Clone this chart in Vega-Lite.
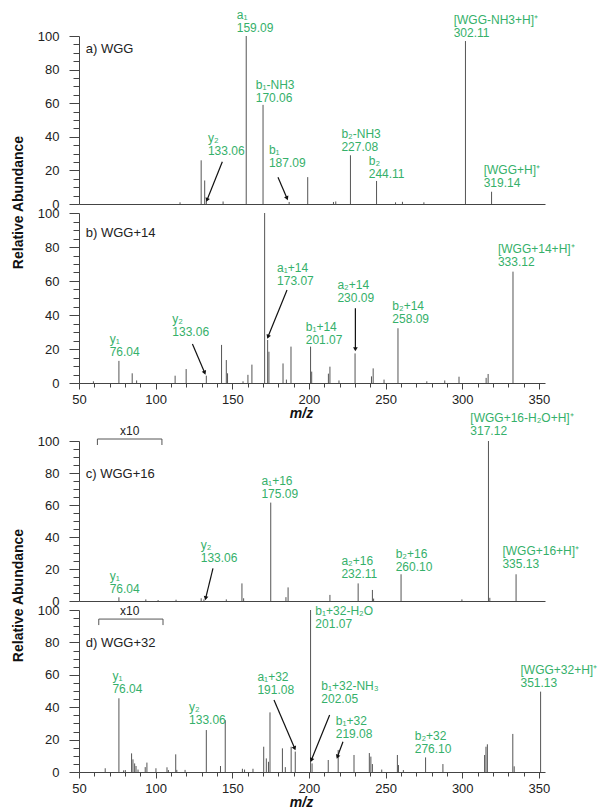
{
"$schema": "https://vega.github.io/schema/vega-lite/v6.json",
"padding": {"left": 11, "top": 8, "right": 40, "bottom": 5},
"config": {
  "view": {"stroke": null},
  "font": "Liberation Sans",
  "axis": {"grid": false, "domainColor": "#444", "tickColor": "#444", "labelColor": "#222", "labelFontSize": 13, "labelFont": "Liberation Sans", "titleFont": "Liberation Sans", "titleColor": "#111", "labelFlush": false, "labelOverlap": false},
  "text": {"font": "Liberation Sans"}
},
"datasets": {
  "peaks": [
    {"panel":"a","mz":115.9,"ab":1},{"panel":"a","mz":129.7,"ab":26},{"panel":"a","mz":132.0,"ab":14},{"panel":"a","mz":133.06,"ab":2},{"panel":"a","mz":144.0,"ab":1.5},{"panel":"a","mz":159.09,"ab":100},{"panel":"a","mz":170.06,"ab":59},{"panel":"a","mz":187.09,"ab":1.2},{"panel":"a","mz":199.2,"ab":16},{"panel":"a","mz":216.0,"ab":1.2},{"panel":"a","mz":217.5,"ab":1.5},{"panel":"a","mz":227.08,"ab":29},{"panel":"a","mz":244.11,"ab":13.7},{"panel":"a","mz":256.5,"ab":1},{"panel":"a","mz":261.0,"ab":1.3},{"panel":"a","mz":275.0,"ab":1},{"panel":"a","mz":302.11,"ab":97},{"panel":"a","mz":319.14,"ab":7.3},
    {"panel":"b","mz":59.4,"ab":1},{"panel":"b","mz":76.04,"ab":13},{"panel":"b","mz":84.7,"ab":5.7},{"panel":"b","mz":87.6,"ab":1.5},{"panel":"b","mz":112.7,"ab":4.3},{"panel":"b","mz":119.9,"ab":8.2},{"panel":"b","mz":133.06,"ab":4.3},{"panel":"b","mz":143.0,"ab":22.4},{"panel":"b","mz":146.1,"ab":13.5},{"panel":"b","mz":146.9,"ab":5.7},{"panel":"b","mz":157.0,"ab":1},{"panel":"b","mz":160.2,"ab":4.8},{"panel":"b","mz":162.8,"ab":10.8},{"panel":"b","mz":171.1,"ab":100},{"panel":"b","mz":173.07,"ab":25.3},{"panel":"b","mz":173.9,"ab":18.4},{"panel":"b","mz":183.1,"ab":11.5},{"panel":"b","mz":185.3,"ab":2},{"panel":"b","mz":188.3,"ab":21.4},{"panel":"b","mz":201.07,"ab":21.4},{"panel":"b","mz":201.8,"ab":6.7},{"panel":"b","mz":212.7,"ab":5.5},{"panel":"b","mz":213.7,"ab":9.6},{"panel":"b","mz":219.6,"ab":1.5},{"panel":"b","mz":230.09,"ab":17.4},{"panel":"b","mz":240.8,"ab":3.9},{"panel":"b","mz":241.9,"ab":8.6},{"panel":"b","mz":249.0,"ab":2},{"panel":"b","mz":258.09,"ab":32.2},{"panel":"b","mz":276.9,"ab":1},{"panel":"b","mz":288.6,"ab":1.5},{"panel":"b","mz":297.9,"ab":3.7},{"panel":"b","mz":315.6,"ab":3},{"panel":"b","mz":316.9,"ab":5.3},{"panel":"b","mz":333.12,"ab":65.5},
    {"panel":"c","mz":76.04,"ab":2.3},{"panel":"c","mz":93.6,"ab":1},{"panel":"c","mz":101.6,"ab":0.6},{"panel":"c","mz":113.3,"ab":0.8},{"panel":"c","mz":129.7,"ab":1.7},{"panel":"c","mz":131.5,"ab":1},{"panel":"c","mz":146.1,"ab":1},{"panel":"c","mz":156.3,"ab":11},{"panel":"c","mz":157.4,"ab":1.7},{"panel":"c","mz":175.09,"ab":61.5},{"panel":"c","mz":185.0,"ab":2.4},{"panel":"c","mz":186.4,"ab":8.5},{"panel":"c","mz":213.7,"ab":3.8},{"panel":"c","mz":232.11,"ab":11},{"panel":"c","mz":241.4,"ab":6.9},{"panel":"c","mz":242.2,"ab":1.5},{"panel":"c","mz":260.10,"ab":16.7},{"panel":"c","mz":299.8,"ab":1},{"panel":"c","mz":317.12,"ab":100},{"panel":"c","mz":318.0,"ab":2},{"panel":"c","mz":335.13,"ab":16.7},
    {"panel":"d","mz":67.1,"ab":2.3},{"panel":"d","mz":76.04,"ab":45.5},{"panel":"d","mz":79.1,"ab":1},{"panel":"d","mz":80.2,"ab":1.2},{"panel":"d","mz":84.3,"ab":11.5},{"panel":"d","mz":85.2,"ab":7.8},{"panel":"d","mz":86.3,"ab":5.3},{"panel":"d","mz":87.2,"ab":3.7},{"panel":"d","mz":88.5,"ab":1.5},{"panel":"d","mz":93.2,"ab":3},{"panel":"d","mz":94.3,"ab":5.8},{"panel":"d","mz":100.2,"ab":2.3},{"panel":"d","mz":107.4,"ab":2.9},{"panel":"d","mz":108.3,"ab":1.2},{"panel":"d","mz":113.1,"ab":10.9},{"panel":"d","mz":113.8,"ab":1.3},{"panel":"d","mz":119.2,"ab":1.3},{"panel":"d","mz":133.06,"ab":25.9},{"panel":"d","mz":142.3,"ab":3.7},{"panel":"d","mz":145.4,"ab":32},{"panel":"d","mz":156.6,"ab":2},{"panel":"d","mz":158.0,"ab":1.5},{"panel":"d","mz":163.5,"ab":2},{"panel":"d","mz":170.5,"ab":15.6},{"panel":"d","mz":172.2,"ab":8.4},{"panel":"d","mz":173.6,"ab":6.3},{"panel":"d","mz":174.6,"ab":36.8},{"panel":"d","mz":182.7,"ab":14.6},{"panel":"d","mz":184.6,"ab":3},{"panel":"d","mz":188.4,"ab":15.6},{"panel":"d","mz":191.08,"ab":12.6},{"panel":"d","mz":201.07,"ab":100},{"panel":"d","mz":202.05,"ab":5.3},{"panel":"d","mz":212.6,"ab":7.4},{"panel":"d","mz":219.08,"ab":13.6},{"panel":"d","mz":229.4,"ab":10.5},{"panel":"d","mz":239.4,"ab":11.7},{"panel":"d","mz":240.4,"ab":9.5},{"panel":"d","mz":241.4,"ab":4.9},{"panel":"d","mz":247.5,"ab":1.5},{"panel":"d","mz":257.7,"ab":10.5},{"panel":"d","mz":258.4,"ab":4.3},{"panel":"d","mz":261.6,"ab":1.2},{"panel":"d","mz":276.10,"ab":9},{"panel":"d","mz":287.4,"ab":4.9},{"panel":"d","mz":314.6,"ab":10.5},{"panel":"d","mz":315.5,"ab":15.6},{"panel":"d","mz":316.4,"ab":17.1},{"panel":"d","mz":333.0,"ab":23.5},{"panel":"d","mz":333.9,"ab":3.5},{"panel":"d","mz":351.13,"ab":49.6}
  ],
  "labels": [
    {"panel":"a","mz":152.9,"ab":102.6,"text":"a₁\n159.09"},
    {"panel":"a","mz":165.3,"ab":60.9,"text":"b₁-NH3\n170.06"},
    {"panel":"a","mz":134.1,"ab":29.2,"text":"y₂\n133.06"},
    {"panel":"a","mz":173.9,"ab":22.2,"text":"b₁\n187.09"},
    {"panel":"a","mz":221.2,"ab":31.7,"text":"b₂-NH3\n227.08"},
    {"panel":"a","mz":239.0,"ab":15.3,"text":"b₂\n244.11"},
    {"panel":"a","mz":294.4,"ab":99.2,"text":"[WGG-NH3+H]⁺\n302.11"},
    {"panel":"a","mz":314.0,"ab":9.9,"text":"[WGG+H]⁺\n319.14"},
    {"panel":"b","mz":70.0,"ab":15.9,"text":"y₁\n76.04"},
    {"panel":"b","mz":110.9,"ab":27.6,"text":"y₂\n133.06"},
    {"panel":"b","mz":179.2,"ab":57.6,"text":"a₁+14\n173.07"},
    {"panel":"b","mz":197.9,"ab":22.9,"text":"b₁+14\n201.07"},
    {"panel":"b","mz":218.6,"ab":47.8,"text":"a₂+14\n230.09"},
    {"panel":"b","mz":254.4,"ab":35.1,"text":"b₂+14\n258.09"},
    {"panel":"b","mz":323.3,"ab":68.8,"text":"[WGG+14+H]⁺\n333.12"},
    {"panel":"c","mz":70.0,"ab":5.2,"text":"y₁\n76.04"},
    {"panel":"c","mz":129.4,"ab":24.6,"text":"y₂\n133.06"},
    {"panel":"c","mz":169.0,"ab":64.2,"text":"a₁+16\n175.09"},
    {"panel":"c","mz":221.2,"ab":14.2,"text":"a₂+16\n232.11"},
    {"panel":"c","mz":256.6,"ab":18.8,"text":"b₂+16\n260.10"},
    {"panel":"c","mz":305.3,"ab":103.8,"text":"[WGG+16-H₂O+H]⁺\n317.12"},
    {"panel":"c","mz":326.2,"ab":20.4,"text":"[WGG+16+H]⁺\n335.13"},
    {"panel":"d","mz":71.8,"ab":49.0,"text":"y₁\n76.04"},
    {"panel":"d","mz":121.8,"ab":29.4,"text":"y₂\n133.06"},
    {"panel":"d","mz":166.4,"ab":48.0,"text":"a₁+32\n191.08"},
    {"panel":"d","mz":204.2,"ab":88.7,"text":"b₁+32-H₂O\n201.07"},
    {"panel":"d","mz":208.1,"ab":42.8,"text":"b₁+32-NH₃\n202.05"},
    {"panel":"d","mz":217.5,"ab":20.8,"text":"b₁+32\n219.08"},
    {"panel":"d","mz":269.0,"ab":11.5,"text":"b₂+32\n276.10"},
    {"panel":"d","mz":338.0,"ab":52.3,"text":"[WGG+32+H]⁺\n351.13"}
  ],
  "arrows": [
    {"panel":"a","mz":143.5,"ab":25.2,"mz2":133.5,"ab2":2.4},
    {"panel":"a","mz":179.8,"ab":15.9,"mz2":185.7,"ab2":3.4},
    {"panel":"b","mz":124.0,"ab":22.9,"mz2":132.0,"ab2":6.0},
    {"panel":"b","mz":185.7,"ab":54.7,"mz2":173.3,"ab2":27.2},
    {"panel":"b","mz":230.3,"ab":43.9,"mz2":230.3,"ab2":19.8},
    {"panel":"c","mz":137.4,"ab":20.4,"mz2":132.6,"ab2":1.7},
    {"panel":"d","mz":177.2,"ab":44.4,"mz2":190.7,"ab2":14.6},
    {"panel":"d","mz":213.5,"ab":35.2,"mz2":201.6,"ab2":7.4},
    {"panel":"d","mz":222.2,"ab":18.7,"mz2":218.6,"ab2":9.4}
  ],
  "brackets": [
    {"panel":"c","mz":62.0,"ab":101.25,"mz2":104.1,"ab2":101.25},
    {"panel":"c","mz":62.0,"ab":101.25,"mz2":62.0,"ab2":97.5},
    {"panel":"c","mz":104.1,"ab":101.25,"mz2":104.1,"ab2":97.5},
    {"panel":"d","mz":62.9,"ab":94.4,"mz2":104.8,"ab2":94.4},
    {"panel":"d","mz":62.9,"ab":94.4,"mz2":62.9,"ab2":90.7},
    {"panel":"d","mz":104.8,"ab":94.4,"mz2":104.8,"ab2":90.7}
  ],
  "notes": [
    {"panel":"c","mz":83.1,"ab":103.75,"text":"x10"},
    {"panel":"d","mz":83.1,"ab":96.9,"text":"x10"}
  ],
  "tags": [
    {"panel":"a","mz":54.4,"ab":89.9,"text":"a) WGG"},
    {"panel":"b","mz":54.4,"ab":86.0,"text":"b) WGG+14"},
    {"panel":"c","mz":54.4,"ab":76.7,"text":"c) WGG+16"},
    {"panel":"d","mz":54.4,"ab":77.4,"text":"d) WGG+32"}
  ]
},
"spacing": 9,
"bounds": "flush",
"vconcat": [
  {
    "width": 466, "height": 168,
    "encoding": {
      "x": {"field": "mz", "type": "quantitative", "scale": {"domain": [50, 354], "nice": false, "zero": false},
            "axis": {"labels": false, "ticks": false, "title": null}},
      "y": {"field": "ab", "type": "quantitative", "scale": {"domain": [0, 100], "nice": false},
            "axis": {"values": [0,5,10,15,20,25,30,35,40,45,50,55,60,65,70,75,80,85,90,95,100],
                     "labelExpr": "datum.value % 20 === 0 ? datum.label : ''",
                     "tickSize": {"condition": {"test": "datum.value % 20 !== 0", "value": 6}, "value": 10},
                     "labelPadding": 10,
                     "title": "Relative Abundance", "titleFontSize": 14, "titleFontWeight": "bold",
                     "titleX": -61, "titleY": 166, "titleBaseline": "middle"}}
    },
    "layer": [
      {"data": {"name": "peaks"}, "transform": [{"filter": "datum.panel === 'a'"}],
       "mark": {"type": "rule", "color": "#555", "strokeWidth": 1}, "encoding": {"y2": {"datum": 0}}},
      {"data": {"name": "labels"}, "transform": [{"filter": "datum.panel === 'a'"}],
       "mark": {"type": "text", "align": "left", "baseline": "alphabetic", "dy": -13, "lineBreak": "\n", "lineHeight": 13, "fontSize": 12, "color": "#35b06a"},
       "encoding": {"text": {"field": "text"}}},
      {"data": {"name": "arrows"}, "transform": [{"filter": "datum.panel === 'a'"}],
       "mark": {"type": "rule", "color": "#111", "strokeWidth": 1.2},
       "encoding": {"x2": {"field": "mz2"}, "y2": {"field": "ab2"}}},
      {"data": {"name": "arrows"}, "transform": [{"filter": "datum.panel === 'a'"}, {"calculate": "atan2((datum.mz2 - datum.mz) * 1.533, (datum.ab2 - datum.ab) * 1.68) * 180 / PI", "as": "ang"}],
       "mark": {"type": "point", "shape": "triangle-up", "filled": true, "color": "#111", "size": 22, "opacity": 1},
       "encoding": {"x": {"field": "mz2", "type": "quantitative"}, "y": {"field": "ab2", "type": "quantitative"}, "angle": {"field": "ang", "type": "quantitative", "scale": null}}},
      {"data": {"name": "tags"}, "transform": [{"filter": "datum.panel === 'a'"}],
       "mark": {"type": "text", "align": "left", "baseline": "alphabetic", "fontSize": 13, "color": "#222"},
       "encoding": {"text": {"field": "text"}}}
    ]
  },
  {
    "width": 466, "height": 170,
    "encoding": {
      "x": {"field": "mz", "type": "quantitative", "scale": {"domain": [50, 354], "nice": false, "zero": false},
            "axis": {"values": [50,60,70,80,90,100,110,120,130,140,150,160,170,180,190,200,210,220,230,240,250,260,270,280,290,300,310,320,330,340,350],
                     "labelExpr": "datum.value % 50 === 0 ? datum.label : ''",
                     "tickSize": {"condition": {"test": "datum.value % 50 !== 0", "value": 4}, "value": 6},
                     "labelPadding": 4, "labelDx": -4,
                     "title": "m/z", "titleFontSize": 14, "titleFontWeight": "bold", "titleFontStyle": "italic",
                     "titleX": 222, "titleY": 34, "titleBaseline": "alphabetic"}},
      "y": {"field": "ab", "type": "quantitative", "scale": {"domain": [0, 100], "nice": false},
            "axis": {"values": [0,5,10,15,20,25,30,35,40,45,50,55,60,65,70,75,80,85,90,95,100],
                     "labelExpr": "datum.value % 20 === 0 ? datum.label : ''",
                     "tickSize": {"condition": {"test": "datum.value % 20 !== 0", "value": 6}, "value": 10},
                     "labelPadding": 10, "title": null}}
    },
    "layer": [
      {"data": {"name": "peaks"}, "transform": [{"filter": "datum.panel === 'b'"}],
       "mark": {"type": "rule", "color": "#555", "strokeWidth": 1}, "encoding": {"y2": {"datum": 0}}},
      {"data": {"name": "labels"}, "transform": [{"filter": "datum.panel === 'b'"}],
       "mark": {"type": "text", "align": "left", "baseline": "alphabetic", "dy": -13, "lineBreak": "\n", "lineHeight": 13, "fontSize": 12, "color": "#35b06a"},
       "encoding": {"text": {"field": "text"}}},
      {"data": {"name": "arrows"}, "transform": [{"filter": "datum.panel === 'b'"}],
       "mark": {"type": "rule", "color": "#111", "strokeWidth": 1.2},
       "encoding": {"x2": {"field": "mz2"}, "y2": {"field": "ab2"}}},
      {"data": {"name": "arrows"}, "transform": [{"filter": "datum.panel === 'b'"}, {"calculate": "atan2((datum.mz2 - datum.mz) * 1.533, (datum.ab2 - datum.ab) * 1.70) * 180 / PI", "as": "ang"}],
       "mark": {"type": "point", "shape": "triangle-up", "filled": true, "color": "#111", "size": 22, "opacity": 1},
       "encoding": {"x": {"field": "mz2", "type": "quantitative"}, "y": {"field": "ab2", "type": "quantitative"}, "angle": {"field": "ang", "type": "quantitative", "scale": null}}},
      {"data": {"name": "tags"}, "transform": [{"filter": "datum.panel === 'b'"}],
       "mark": {"type": "text", "align": "left", "baseline": "alphabetic", "fontSize": 13, "color": "#222"},
       "encoding": {"text": {"field": "text"}}}
    ]
  },
  {
    "width": 466, "height": 40,
    "data": {"values": [{"t": ""}]},
    "mark": {"type": "text"},
    "encoding": {"text": {"field": "t"}}
  },
  {
    "width": 466, "height": 160,
    "encoding": {
      "x": {"field": "mz", "type": "quantitative", "scale": {"domain": [50, 354], "nice": false, "zero": false},
            "axis": {"labels": false, "ticks": false, "title": null}},
      "y": {"field": "ab", "type": "quantitative", "scale": {"domain": [0, 100], "nice": false},
            "axis": {"values": [0,5,10,15,20,25,30,35,40,45,50,55,60,65,70,75,80,85,90,95,100],
                     "labelExpr": "datum.value % 20 === 0 ? datum.label : ''",
                     "tickSize": {"condition": {"test": "datum.value % 20 !== 0", "value": 6}, "value": 10},
                     "labelPadding": 10,
                     "title": "Relative Abundance", "titleFontSize": 14, "titleFontWeight": "bold",
                     "titleX": -61, "titleY": 154, "titleBaseline": "middle"}}
    },
    "layer": [
      {"data": {"name": "peaks"}, "transform": [{"filter": "datum.panel === 'c'"}],
       "mark": {"type": "rule", "color": "#555", "strokeWidth": 1}, "encoding": {"y2": {"datum": 0}}},
      {"data": {"name": "labels"}, "transform": [{"filter": "datum.panel === 'c'"}],
       "mark": {"type": "text", "align": "left", "baseline": "alphabetic", "dy": -13, "lineBreak": "\n", "lineHeight": 13, "fontSize": 12, "color": "#35b06a"},
       "encoding": {"text": {"field": "text"}}},
      {"data": {"name": "arrows"}, "transform": [{"filter": "datum.panel === 'c'"}],
       "mark": {"type": "rule", "color": "#111", "strokeWidth": 1.2},
       "encoding": {"x2": {"field": "mz2"}, "y2": {"field": "ab2"}}},
      {"data": {"name": "arrows"}, "transform": [{"filter": "datum.panel === 'c'"}, {"calculate": "atan2((datum.mz2 - datum.mz) * 1.533, (datum.ab2 - datum.ab) * 1.60) * 180 / PI", "as": "ang"}],
       "mark": {"type": "point", "shape": "triangle-up", "filled": true, "color": "#111", "size": 22, "opacity": 1},
       "encoding": {"x": {"field": "mz2", "type": "quantitative"}, "y": {"field": "ab2", "type": "quantitative"}, "angle": {"field": "ang", "type": "quantitative", "scale": null}}},
      {"data": {"name": "brackets"}, "transform": [{"filter": "datum.panel === 'c'"}],
       "mark": {"type": "rule", "color": "#555", "strokeWidth": 1},
       "encoding": {"x2": {"field": "mz2"}, "y2": {"field": "ab2"}}},
      {"data": {"name": "notes"}, "transform": [{"filter": "datum.panel === 'c'"}],
       "mark": {"type": "text", "align": "center", "baseline": "alphabetic", "fontSize": 12, "color": "#222"},
       "encoding": {"text": {"field": "text"}}},
      {"data": {"name": "tags"}, "transform": [{"filter": "datum.panel === 'c'"}],
       "mark": {"type": "text", "align": "left", "baseline": "alphabetic", "fontSize": 13, "color": "#222"},
       "encoding": {"text": {"field": "text"}}}
    ]
  },
  {
    "width": 466, "height": 162,
    "encoding": {
      "x": {"field": "mz", "type": "quantitative", "scale": {"domain": [50, 354], "nice": false, "zero": false},
            "axis": {"values": [50,60,70,80,90,100,110,120,130,140,150,160,170,180,190,200,210,220,230,240,250,260,270,280,290,300,310,320,330,340,350],
                     "labelExpr": "datum.value % 50 === 0 ? datum.label : ''",
                     "tickSize": {"condition": {"test": "datum.value % 50 !== 0", "value": 4}, "value": 6},
                     "labelPadding": 4, "labelDx": -4,
                     "title": "m/z", "titleFontSize": 14, "titleFontWeight": "bold", "titleFontStyle": "italic",
                     "titleX": 222, "titleY": 34, "titleBaseline": "alphabetic"}},
      "y": {"field": "ab", "type": "quantitative", "scale": {"domain": [0, 100], "nice": false},
            "axis": {"values": [0,5,10,15,20,25,30,35,40,45,50,55,60,65,70,75,80,85,90,95,100],
                     "labelExpr": "datum.value % 20 === 0 ? datum.label : ''",
                     "tickSize": {"condition": {"test": "datum.value % 20 !== 0", "value": 6}, "value": 10},
                     "labelPadding": 10, "title": null}}
    },
    "layer": [
      {"data": {"name": "peaks"}, "transform": [{"filter": "datum.panel === 'd'"}],
       "mark": {"type": "rule", "color": "#555", "strokeWidth": 1}, "encoding": {"y2": {"datum": 0}}},
      {"data": {"name": "labels"}, "transform": [{"filter": "datum.panel === 'd'"}],
       "mark": {"type": "text", "align": "left", "baseline": "alphabetic", "dy": -13, "lineBreak": "\n", "lineHeight": 13, "fontSize": 12, "color": "#35b06a"},
       "encoding": {"text": {"field": "text"}}},
      {"data": {"name": "arrows"}, "transform": [{"filter": "datum.panel === 'd'"}],
       "mark": {"type": "rule", "color": "#111", "strokeWidth": 1.2},
       "encoding": {"x2": {"field": "mz2"}, "y2": {"field": "ab2"}}},
      {"data": {"name": "arrows"}, "transform": [{"filter": "datum.panel === 'd'"}, {"calculate": "atan2((datum.mz2 - datum.mz) * 1.533, (datum.ab2 - datum.ab) * 1.62) * 180 / PI", "as": "ang"}],
       "mark": {"type": "point", "shape": "triangle-up", "filled": true, "color": "#111", "size": 22, "opacity": 1},
       "encoding": {"x": {"field": "mz2", "type": "quantitative"}, "y": {"field": "ab2", "type": "quantitative"}, "angle": {"field": "ang", "type": "quantitative", "scale": null}}},
      {"data": {"name": "brackets"}, "transform": [{"filter": "datum.panel === 'd'"}],
       "mark": {"type": "rule", "color": "#555", "strokeWidth": 1},
       "encoding": {"x2": {"field": "mz2"}, "y2": {"field": "ab2"}}},
      {"data": {"name": "notes"}, "transform": [{"filter": "datum.panel === 'd'"}],
       "mark": {"type": "text", "align": "center", "baseline": "alphabetic", "fontSize": 12, "color": "#222"},
       "encoding": {"text": {"field": "text"}}},
      {"data": {"name": "tags"}, "transform": [{"filter": "datum.panel === 'd'"}],
       "mark": {"type": "text", "align": "left", "baseline": "alphabetic", "fontSize": 13, "color": "#222"},
       "encoding": {"text": {"field": "text"}}}
    ]
  }
]
}
